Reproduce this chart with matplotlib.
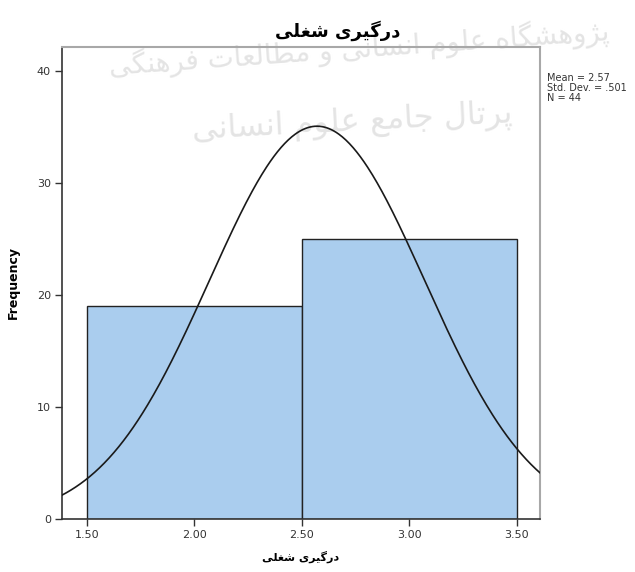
import numpy as np
import matplotlib.pyplot as plt

# histogram data
bin_edges = [1.5, 2.5, 3.5]
counts = [19, 25]
mean, std_dev, n = 2.57, 0.501, 44

x_ticks = [1.5, 2.0, 2.5, 3.0, 3.5]
x_tick_labels = ["1.50", "2.00", "2.50", "3.00", "3.50"]
y_ticks = [0, 10, 20, 30, 40]

# Persian strings, pre-shaped (presentation forms, visual order)
title_fa = "\ufbfd\ufee0\ufed0\ufeb7 \ufbfc\ufeae\ufbff\ufb94\ufead\ufea9"
watermark_1 = ("\ufbfd\ufb95\ufee8\ufeeb\ufeae\ufed3 \ufe95\ufe8e\ufecc\ufedf\ufe8e\ufec4\ufee3 "
               "\ufeed \ufbfd\ufee7\ufe8e\ufeb4\ufee7\ufe8d \ufee1\ufeee\ufee0\ufecb "
               "\ufee9\ufe8e\ufb95\ufeb8\ufeeb\ufeed\ufb8b\ufb58")
watermark_2 = ("\ufbfd\ufee7\ufe8e\ufeb4\ufee7\ufe8d \ufee1\ufeee\ufee0\ufecb "
               "\ufeca\ufee3\ufe8e\ufe9f \ufedd\ufe8e\ufe97\ufeae\ufb58")

fig = plt.figure(figsize=(6.35, 5.72), dpi=100)
ax = fig.add_axes([0.0976, 0.0927, 0.7528, 0.8251])
ax.set_facecolor("none")

# watermark behind the plot
fig.text(0.565, 0.915, watermark_1, fontsize=20, color="#e4e4e4", ha="center", va="center",
         rotation=4, zorder=-1, family="DejaVu Sans")
fig.text(0.555, 0.785, watermark_2, fontsize=23, color="#e4e4e4", ha="center", va="center",
         rotation=3, zorder=-1, family="DejaVu Sans")

widths = np.diff(bin_edges)
ax.bar(bin_edges[:-1], counts, width=widths, align="edge", color="#aacdee",
       edgecolor="#222222", linewidth=1.0, zorder=2)

xs = np.linspace(1.38, 3.61, 400)
pdf = np.exp(-0.5 * ((xs - mean) / std_dev) ** 2) / (std_dev * np.sqrt(2 * np.pi))
ax.plot(xs, pdf * n * widths[0], color="#1a1a1a", linewidth=1.2, zorder=3)

ax.set_xlim(1.384, 3.607)
ax.set_ylim(0, 42.1)
ax.set_xticks(x_ticks)
ax.set_xticklabels(x_tick_labels)
ax.set_yticks(y_ticks)
ax.tick_params(axis="both", direction="out", length=5, width=1, color="#333333",
               labelsize=8, labelcolor="#333333", pad=3)

for side in ["left", "bottom"]:
    ax.spines[side].set_color("#333333")
    ax.spines[side].set_linewidth(1.2)
for side in ["top", "right"]:
    ax.spines[side].set_color("#a8a8a8")
    ax.spines[side].set_linewidth(1.5)

ax.set_ylabel("Frequency", fontsize=9, fontweight="bold", labelpad=12)
ax.set_xlabel(title_fa, fontsize=8, fontweight="bold", labelpad=8, family="DejaVu Sans")

fig.text(0.532, 0.947, title_fa, fontsize=13, fontweight="bold", ha="center", va="center",
         family="DejaVu Sans")

stats = "Mean = %.2f\nStd. Dev. = .%d\nN = %d" % (mean, round(std_dev * 1000), n)
fig.text(0.862, 0.872, stats, fontsize=7, color="#333333", ha="left", va="top",
         linespacing=1.0)

fig.savefig("out.png", dpi=100)
